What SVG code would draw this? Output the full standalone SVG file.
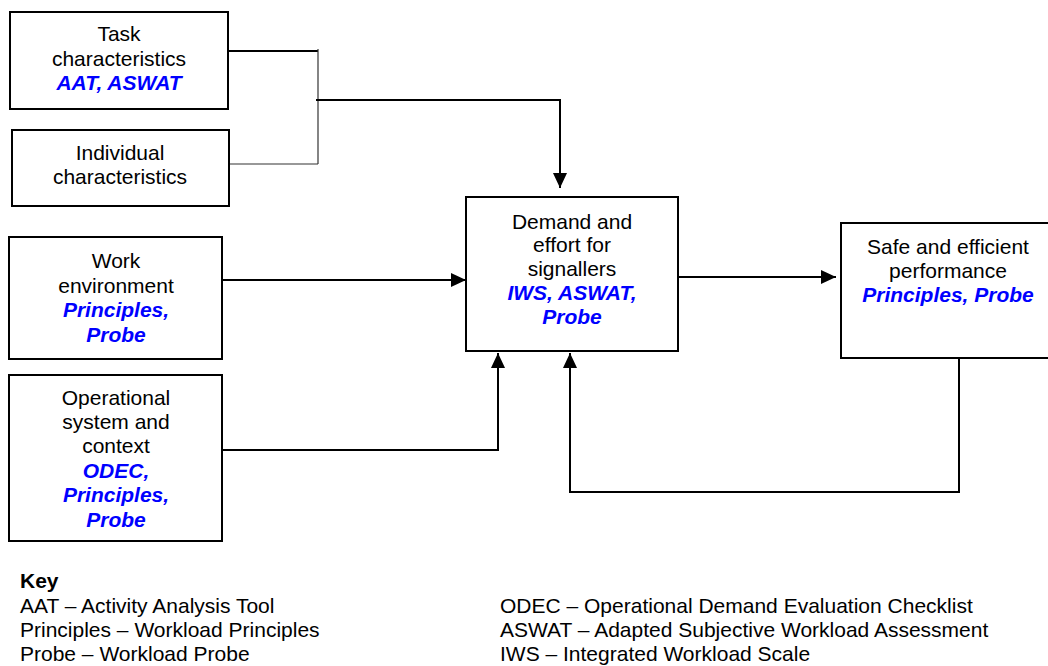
<svg xmlns="http://www.w3.org/2000/svg" width="1048" height="666" viewBox="0 0 1048 666">
<style>
.box{fill:#fff;stroke:#000;stroke-width:2}
.t{font-family:"Liberation Sans",Arial,sans-serif;font-size:21px;fill:#000;text-anchor:middle}
.b{font-family:"Liberation Sans",Arial,sans-serif;font-size:21px;fill:#0000FF;font-weight:bold;font-style:italic;text-anchor:middle}
.k{font-family:"Liberation Sans",Arial,sans-serif;font-size:21px;fill:#000}
.c{fill:none;stroke:#000;stroke-width:2}
.thin{fill:none;stroke:#333;stroke-width:1.2}
</style>
<defs>
<marker id="ah" markerUnits="userSpaceOnUse" markerWidth="15" markerHeight="14" refX="15" refY="7" orient="auto">
<path d="M0,0 L15,7 L0,14 z" fill="#000"/>
</marker>
</defs>
<rect width="1048" height="666" fill="#fff"/>
<g id="connectors">
<path class="c" d="M228,51 H318"/>
<path class="thin" d="M318,49 V164"/>
<path class="thin" d="M229,164 H318"/>
<path class="c" d="M316,100 H560 V188" marker-end="url(#ah)"/>
<path class="c" d="M219,280 H466" marker-end="url(#ah)"/>
<path class="c" d="M222,450 H498 V353" marker-end="url(#ah)"/>
<path class="c" d="M678,277 H836" marker-end="url(#ah)"/>
<path class="c" d="M959,358 V492 H570 V353" marker-end="url(#ah)"/>
</g>
<g id="task">
<rect class="box" x="10" y="12" width="218" height="97"/>
<text class="t" x="119" y="41">Task</text>
<text class="t" x="119" y="66">characteristics</text>
<text class="b" x="119" y="90">AAT, ASWAT</text>
</g>
<g id="individual">
<rect class="box" x="12" y="130" width="217" height="76"/>
<text class="t" x="120" y="160">Individual</text>
<text class="t" x="120" y="184">characteristics</text>
</g>
<g id="work">
<rect class="box" x="9" y="237" width="213" height="122"/>
<text class="t" x="116" y="268">Work</text>
<text class="t" x="116" y="293">environment</text>
<text class="b" x="116" y="317">Principles,</text>
<text class="b" x="116" y="342">Probe</text>
</g>
<g id="operational">
<rect class="box" x="9" y="375" width="213" height="166"/>
<text class="t" x="116" y="405">Operational</text>
<text class="t" x="116" y="429">system and</text>
<text class="t" x="116" y="453">context</text>
<text class="b" x="116" y="478">ODEC,</text>
<text class="b" x="116" y="502">Principles,</text>
<text class="b" x="116" y="527">Probe</text>
</g>
<g id="demand">
<rect class="box" x="466" y="197" width="212" height="154"/>
<text class="t" x="572" y="229">Demand and</text>
<text class="t" x="572" y="252">effort for</text>
<text class="t" x="572" y="276">signallers</text>
<text class="b" x="572" y="300">IWS, ASWAT,</text>
<text class="b" x="572" y="324">Probe</text>
</g>
<g id="safe">
<rect class="box" x="841" y="223" width="210" height="135"/>
<text class="t" x="948" y="254">Safe and efficient</text>
<text class="t" x="948" y="278">performance</text>
<text class="b" x="948" y="302">Principles, Probe</text>
</g>
<g id="key">
<text class="k" x="20" y="588" font-weight="bold">Key</text>
<text class="k" x="20" y="613">AAT – Activity Analysis Tool</text>
<text class="k" x="20" y="637">Principles – Workload Principles</text>
<text class="k" x="20" y="661">Probe – Workload Probe</text>
<text class="k" x="500" y="613">ODEC – Operational Demand Evaluation Checklist</text>
<text class="k" x="500" y="637">ASWAT – Adapted Subjective Workload Assessment</text>
<text class="k" x="500" y="661">IWS – Integrated Workload Scale</text>
</g>
</svg>
